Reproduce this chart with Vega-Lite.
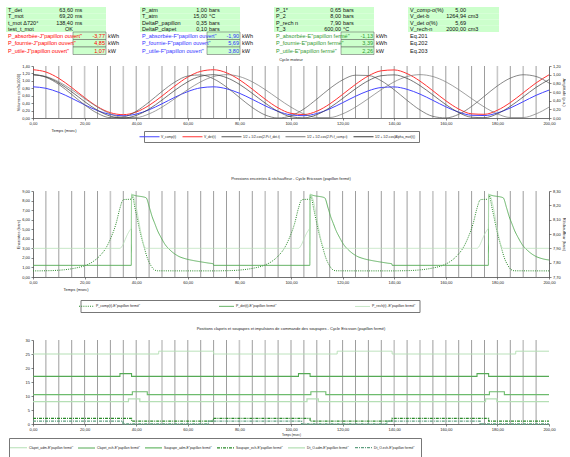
{
"$schema": "https://vega.github.io/schema/vega-lite/v6.json",
"padding": {"left": 5, "top": 7, "right": 0, "bottom": 0},
"background": "white",
"bounds": "flush",
"spacing": 0,
"resolve": {"scale": {"color": "independent", "strokeDash": "independent", "strokeWidth": "independent"}, "legend": {"color": "independent", "strokeDash": "independent", "strokeWidth": "independent"}},
"config": {
 "view": {"stroke": null},
 "font": "Liberation Sans",
 "axis": {"labelFontSize": 4, "titleFontSize": 4, "titleFontWeight": "normal", "labelColor": "#222", "titleColor": "#222", "domainColor": "#333", "tickColor": "#333", "tickSize": 2, "domainWidth": 0.7, "tickWidth": 0.6, "grid": false, "labelPadding": 1.5, "labelFlush": false, "labelOverlap": false, "labelFont": "Liberation Sans", "titleFont": "Liberation Sans"},
 "legend": {"labelFontSize": 3.4, "labelColor": "#222", "strokeColor": "#777", "symbolStrokeWidth": 1, "symbolSize": 16, "labelFont": "Liberation Sans", "orient": "none", "direction": "horizontal"},
 "title": {"fontSize": 4, "fontWeight": "normal", "color": "#222", "font": "Liberation Sans", "anchor": "middle"}
},
"datasets": {
 "hdrTop": [
  {"b":0,"r":0,"l":"T_det","v":"63,60","u":"ms"},
  {"b":0,"r":1,"l":"T_mot","v":"69,20","u":"ms"},
  {"b":0,"r":2,"l":"t_mot Δ720°","v":"138,40","u":"ms"},
  {"b":0,"r":3,"l":"test_t_mot","v":"OK","u":""},
  {"b":1,"r":0,"l":"P_atm","v":"1,00","u":"bars"},
  {"b":1,"r":1,"l":"T_atm","v":"15,00","u":"°C"},
  {"b":1,"r":2,"l":"DeltaP_papillon","v":"0,35","u":"bars"},
  {"b":1,"r":3,"l":"DeltaP_clapet","v":"0,10","u":"bars"},
  {"b":2,"r":0,"l":"P_1*","v":"0,65","u":"bars"},
  {"b":2,"r":1,"l":"P_2","v":"8,00","u":"bars"},
  {"b":2,"r":2,"l":"P_rech n","v":"7,90","u":"bars"},
  {"b":2,"r":3,"l":"T_3","v":"600,00","u":"°C"},
  {"b":3,"r":0,"l":"V_comp-o(%)","v":"5,00","u":""},
  {"b":3,"r":1,"l":"V_det-b","v":"1264,94","u":"cm3"},
  {"b":3,"r":2,"l":"V_det o(%)","v":"5,69","u":""},
  {"b":3,"r":3,"l":"V_rech-n","v":"2000,00","u":"cm3"}
 ],
 "hdrBot": [
  {"b":0,"r":0,"l":"P_absorbée-J\"papillon ouvert\"","v":"-3,77","u":"kWh"},
  {"b":0,"r":1,"l":"P_fournie-J\"papillon ouvert\"","v":"4,85","u":"kWh"},
  {"b":0,"r":2,"l":"P_utile-J\"papillon ouvert\"","v":"1,07","u":"kW"},
  {"b":1,"r":0,"l":"P_absorbée-F\"papillon ouvert\"","v":"-1,90","u":"kWh"},
  {"b":1,"r":1,"l":"P_fournie-F\"papillon ouvert\"","v":"5,69","u":"kWh"},
  {"b":1,"r":2,"l":"P_utile-F\"papillon ouvert\"","v":"3,80","u":"kW"},
  {"b":2,"r":0,"l":"P_absorbée-E\"papillon fermé\"","v":"-1,13","u":"kWh"},
  {"b":2,"r":1,"l":"P_fournie-E\"papillon fermé\"","v":"3,39","u":"kWh"},
  {"b":2,"r":2,"l":"P_utile-E\"papillon fermé\"","v":"2,26","u":"kW"},
  {"b":3,"r":0,"l":"Eq.201","v":"","u":""},
  {"b":3,"r":1,"l":"Eq.202","v":"","u":""},
  {"b":3,"r":2,"l":"Eq.203","v":"","u":""}
 ],
 "vl1d": [{"t":5},{"t":10},{"t":15},{"t":25},{"t":30},{"t":40},{"t":50},{"t":55},{"t":60},{"t":65},{"t":70},{"t":75},{"t":80},{"t":85},{"t":90},{"t":100},{"t":105},{"t":110},{"t":115},{"t":120},{"t":125},{"t":130},{"t":135},{"t":140},{"t":145},{"t":155},{"t":160},{"t":165},{"t":170},{"t":175},{"t":185},{"t":195}],
 "vl1l": [{"t":20},{"t":35},{"t":45},{"t":95},{"t":150},{"t":180},{"t":190}],
 "vl2d": [{"t":5},{"t":10},{"t":15},{"t":20},{"t":25},{"t":35},{"t":45},{"t":50},{"t":55},{"t":60},{"t":65},{"t":70},{"t":75},{"t":80},{"t":85},{"t":95},{"t":100},{"t":105},{"t":115},{"t":120},{"t":125},{"t":130},{"t":135},{"t":140},{"t":145},{"t":150},{"t":165},{"t":170},{"t":175},{"t":180},{"t":185},{"t":190},{"t":195}],
 "vl2l": [{"t":30},{"t":40},{"t":90},{"t":110},{"t":155},{"t":160}],
 "vl3d": [{"t":5},{"t":10},{"t":15},{"t":20},{"t":25},{"t":30},{"t":35},{"t":40},{"t":45},{"t":55},{"t":60},{"t":65},{"t":70},{"t":75},{"t":85},{"t":95},{"t":100},{"t":105},{"t":110},{"t":115},{"t":120},{"t":125},{"t":130},{"t":135},{"t":145},{"t":155},{"t":165},{"t":170},{"t":175},{"t":180},{"t":185},{"t":195}],
 "vl3l": [{"t":50},{"t":80},{"t":90},{"t":140},{"t":150},{"t":160},{"t":190}],
 "c1": [
  {"t":0,"vc":0.840,"vd":1.300,"gd":1.000,"gc":1.000,"gm":1.000},
  {"t":5,"vc":0.800,"vd":1.238,"gd":0.940,"gc":0.957,"gm":0.949},
  {"t":10,"vc":0.690,"vd":1.068,"gd":0.775,"gc":0.835,"gm":0.808},
  {"t":15,"vc":0.531,"vd":0.821,"gd":0.544,"gc":0.655,"gm":0.604},
  {"t":20,"vc":0.356,"vd":0.549,"gd":0.303,"gc":0.448,"gm":0.379},
  {"t":25,"vc":0.199,"vd":0.305,"gd":0.109,"gc":0.250,"gm":0.178},
  {"t":30,"vc":0.094,"vd":0.142,"gd":0.008,"gc":0.095,"gm":0.043},
  {"t":35,"vc":0.060,"vd":0.090,"gd":0.025,"gc":0.011,"gm":0.000},
  {"t":40,"vc":0.106,"vd":0.161,"gd":0.155,"gc":0.011,"gm":0.059},
  {"t":45,"vc":0.221,"vd":0.340,"gd":0.368,"gc":0.095,"gm":0.207},
  {"t":50,"vc":0.383,"vd":0.591,"gd":0.613,"gc":0.250,"gm":0.414},
  {"t":55,"vc":0.558,"vd":0.863,"gd":0.830,"gc":0.448,"gm":0.639},
  {"t":60,"vc":0.712,"vd":1.102,"gd":0.969,"gc":0.655,"gm":0.836},
  {"t":65,"vc":0.812,"vd":1.256,"gd":0.995,"gc":0.835,"gm":0.964},
  {"t":70,"vc":0.839,"vd":1.299,"gd":0.903,"gc":0.957,"gm":0.999},
  {"t":75,"vc":0.787,"vd":1.218,"gd":0.715,"gc":1.000,"gm":0.932},
  {"t":80,"vc":0.667,"vd":1.031,"gd":0.475,"gc":0.957,"gm":0.778},
  {"t":85,"vc":0.503,"vd":0.777,"gd":0.242,"gc":0.835,"gm":0.568},
  {"t":90,"vc":0.328,"vd":0.506,"gd":0.069,"gc":0.655,"gm":0.344},
  {"t":95,"vc":0.178,"vd":0.273,"gd":0.000,"gc":0.448,"gm":0.151},
  {"t":100,"vc":0.083,"vd":0.125,"gd":0.051,"gc":0.250,"gm":0.029},
  {"t":105,"vc":0.062,"vd":0.094,"gd":0.208,"gc":0.095,"gm":0.003},
  {"t":110,"vc":0.120,"vd":0.183,"gd":0.436,"gc":0.011,"gm":0.077},
  {"t":115,"vc":0.245,"vd":0.377,"gd":0.679,"gc":0.011,"gm":0.237},
  {"t":120,"vc":0.411,"vd":0.635,"gd":0.879,"gc":0.095,"gm":0.450},
  {"t":125,"vc":0.585,"vd":0.904,"gd":0.988,"gc":0.250,"gm":0.673},
  {"t":130,"vc":0.732,"vd":1.133,"gd":0.981,"gc":0.448,"gm":0.862},
  {"t":135,"vc":0.821,"vd":1.271,"gd":0.859,"gc":0.655,"gm":0.976},
  {"t":140,"vc":0.836,"vd":1.294,"gd":0.651,"gc":0.835,"gm":0.995},
  {"t":145,"vc":0.772,"vd":1.195,"gd":0.407,"gc":0.957,"gm":0.913},
  {"t":150,"vc":0.643,"vd":0.994,"gd":0.185,"gc":1.000,"gm":0.747},
  {"t":155,"vc":0.475,"vd":0.734,"gd":0.038,"gc":0.957,"gm":0.532},
  {"t":160,"vc":0.302,"vd":0.465,"gd":0.002,"gc":0.835,"gm":0.310},
  {"t":165,"vc":0.158,"vd":0.242,"gd":0.085,"gc":0.655,"gm":0.126},
  {"t":170,"vc":0.074,"vd":0.112,"gd":0.267,"gc":0.448,"gm":0.018},
  {"t":175,"vc":0.066,"vd":0.100,"gd":0.505,"gc":0.250,"gm":0.008},
  {"t":180,"vc":0.136,"vd":0.209,"gd":0.741,"gc":0.095,"gm":0.098},
  {"t":185,"vc":0.270,"vd":0.415,"gd":0.920,"gc":0.011,"gm":0.269},
  {"t":190,"vc":0.439,"vd":0.678,"gd":0.998,"gc":0.011,"gm":0.486},
  {"t":195,"vc":0.611,"vd":0.945,"gd":0.958,"gc":0.095,"gm":0.707},
  {"t":200,"vc":0.751,"vd":1.162,"gd":0.807,"gc":0.250,"gm":0.886}
 ],
 "c2": [
  {"s":"pc","t":0,"p":0.64},{"s":"pc","t":4.2,"p":0.65},{"s":"pc","t":8.2,"p":0.68},{"s":"pc","t":12.2,"p":0.76},{"s":"pc","t":16.2,"p":0.92},{"s":"pc","t":20.2,"p":1.2},{"s":"pc","t":23.2,"p":1.6},{"s":"pc","t":26.2,"p":2.3},{"s":"pc","t":28.2,"p":3.0},{"s":"pc","t":30.2,"p":4.1},{"s":"pc","t":32.2,"p":5.6},{"s":"pc","t":33.7,"p":7.2},{"s":"pc","t":34.7,"p":8.0},{"s":"pc","t":35.2,"p":8.1},{"s":"pc","t":38.2,"p":8.15},{"s":"pc","t":38.4,"p":8.5},{"s":"pc","t":39.7,"p":7.0},{"s":"pc","t":41.7,"p":4.5},{"s":"pc","t":43.2,"p":3.0},{"s":"pc","t":44.3,"p":2.0},{"s":"pc","t":45.7,"p":1.2},{"s":"pc","t":46.8,"p":0.8},{"s":"pc","t":48.2,"p":0.65},{"s":"pc","t":60,"p":0.64},{"s":"pc","t":70,"p":0.64},
  {"s":"pc","t":73.4,"p":0.65},{"s":"pc","t":77.4,"p":0.68},{"s":"pc","t":81.4,"p":0.76},{"s":"pc","t":85.4,"p":0.92},{"s":"pc","t":89.4,"p":1.2},{"s":"pc","t":92.4,"p":1.6},{"s":"pc","t":95.4,"p":2.3},{"s":"pc","t":97.4,"p":3.0},{"s":"pc","t":99.4,"p":4.1},{"s":"pc","t":101.4,"p":5.6},{"s":"pc","t":102.9,"p":7.2},{"s":"pc","t":103.9,"p":8.0},{"s":"pc","t":104.4,"p":8.1},{"s":"pc","t":107.4,"p":8.15},{"s":"pc","t":107.6,"p":8.5},{"s":"pc","t":108.9,"p":7.0},{"s":"pc","t":110.9,"p":4.5},{"s":"pc","t":112.4,"p":3.0},{"s":"pc","t":113.5,"p":2.0},{"s":"pc","t":114.9,"p":1.2},{"s":"pc","t":116.0,"p":0.8},{"s":"pc","t":117.4,"p":0.65},{"s":"pc","t":128,"p":0.64},{"s":"pc","t":139.2,"p":0.64},
  {"s":"pc","t":142.6,"p":0.65},{"s":"pc","t":146.6,"p":0.68},{"s":"pc","t":150.6,"p":0.76},{"s":"pc","t":154.6,"p":0.92},{"s":"pc","t":158.6,"p":1.2},{"s":"pc","t":161.6,"p":1.6},{"s":"pc","t":164.6,"p":2.3},{"s":"pc","t":166.6,"p":3.0},{"s":"pc","t":168.6,"p":4.1},{"s":"pc","t":170.6,"p":5.6},{"s":"pc","t":172.1,"p":7.2},{"s":"pc","t":173.1,"p":8.0},{"s":"pc","t":173.6,"p":8.1},{"s":"pc","t":176.6,"p":8.15},{"s":"pc","t":176.8,"p":8.5},{"s":"pc","t":178.1,"p":7.0},{"s":"pc","t":180.1,"p":4.5},{"s":"pc","t":181.6,"p":3.0},{"s":"pc","t":182.7,"p":2.0},{"s":"pc","t":184.1,"p":1.2},{"s":"pc","t":185.2,"p":0.8},{"s":"pc","t":186.6,"p":0.65},{"s":"pc","t":200,"p":0.64},
  {"s":"pd","t":0,"p":1.22},{"s":"pd","t":38.1,"p":1.22},{"s":"pd","t":38.2,"p":8.6},{"s":"pd","t":40,"p":8.5},{"s":"pd","t":43.8,"p":8.3},{"s":"pd","t":45.2,"p":7.2},{"s":"pd","t":46.2,"p":6.3},{"s":"pd","t":47.2,"p":5.6},{"s":"pd","t":48.2,"p":4.9},{"s":"pd","t":49.7,"p":4.1},{"s":"pd","t":51.2,"p":3.4},{"s":"pd","t":53.2,"p":2.8},{"s":"pd","t":56.2,"p":2.2},{"s":"pd","t":59.2,"p":1.9},{"s":"pd","t":62.2,"p":1.72},{"s":"pd","t":65.2,"p":1.58},{"s":"pd","t":68.2,"p":1.45},{"s":"pd","t":69.9,"p":1.38},{"s":"pd","t":70.0,"p":1.22},
  {"s":"pd","t":107.3,"p":1.22},{"s":"pd","t":107.4,"p":8.6},{"s":"pd","t":109.2,"p":8.5},{"s":"pd","t":113.0,"p":8.3},{"s":"pd","t":114.4,"p":7.2},{"s":"pd","t":115.4,"p":6.3},{"s":"pd","t":116.4,"p":5.6},{"s":"pd","t":117.4,"p":4.9},{"s":"pd","t":118.9,"p":4.1},{"s":"pd","t":120.4,"p":3.4},{"s":"pd","t":122.4,"p":2.8},{"s":"pd","t":125.4,"p":2.2},{"s":"pd","t":128.4,"p":1.9},{"s":"pd","t":131.4,"p":1.72},{"s":"pd","t":134.4,"p":1.58},{"s":"pd","t":137.4,"p":1.45},{"s":"pd","t":139.1,"p":1.38},{"s":"pd","t":139.2,"p":1.22},
  {"s":"pd","t":176.5,"p":1.22},{"s":"pd","t":176.6,"p":8.6},{"s":"pd","t":178.4,"p":8.5},{"s":"pd","t":182.2,"p":8.3},{"s":"pd","t":183.6,"p":7.2},{"s":"pd","t":184.6,"p":6.3},{"s":"pd","t":185.6,"p":5.6},{"s":"pd","t":186.6,"p":4.9},{"s":"pd","t":188.1,"p":4.1},{"s":"pd","t":189.6,"p":3.4},{"s":"pd","t":191.6,"p":2.8},{"s":"pd","t":194.6,"p":2.2},{"s":"pd","t":197.6,"p":1.9},{"s":"pd","t":200,"p":1.78}
 ],
 "c2r": [
  {"s":"pr","t":0,"p":7.90},{"s":"pr","t":33.7,"p":7.90},{"s":"pr","t":34.7,"p":7.92},{"s":"pr","t":35.7,"p":7.96},{"s":"pr","t":36.7,"p":8.00},{"s":"pr","t":37.7,"p":8.03},{"s":"pr","t":38.1,"p":8.04},{"s":"pr","t":38.2,"p":8.28},{"s":"pr","t":43.8,"p":7.90},
  {"s":"pr","t":102.9,"p":7.90},{"s":"pr","t":103.9,"p":7.92},{"s":"pr","t":104.9,"p":7.96},{"s":"pr","t":105.9,"p":8.00},{"s":"pr","t":106.9,"p":8.03},{"s":"pr","t":107.3,"p":8.04},{"s":"pr","t":107.4,"p":8.28},{"s":"pr","t":113.0,"p":7.90},
  {"s":"pr","t":172.1,"p":7.90},{"s":"pr","t":173.1,"p":7.92},{"s":"pr","t":174.1,"p":7.96},{"s":"pr","t":175.1,"p":8.00},{"s":"pr","t":176.1,"p":8.03},{"s":"pr","t":176.5,"p":8.04},{"s":"pr","t":176.6,"p":8.28},{"s":"pr","t":182.2,"p":7.90},{"s":"pr","t":200,"p":7.90}
 ],
 "c3": [
  {"s":"ca","t":0,"v":25},{"s":"ca","t":48.7,"v":26},{"s":"ca","t":70,"v":25},{"s":"ca","t":117.9,"v":26},{"s":"ca","t":139.2,"v":25},{"s":"ca","t":187.1,"v":26},{"s":"ca","t":200,"v":26},
  {"s":"ce","t":0,"v":17},{"s":"ce","t":33.7,"v":18},{"s":"ce","t":38.2,"v":17},{"s":"ce","t":102.9,"v":18},{"s":"ce","t":107.4,"v":17},{"s":"ce","t":172.1,"v":18},{"s":"ce","t":176.6,"v":17},{"s":"ce","t":200,"v":17},
  {"s":"sa","t":0,"v":10.5},{"s":"sa","t":38.5,"v":11.5},{"s":"sa","t":44.3,"v":10.5},{"s":"sa","t":107.7,"v":11.5},{"s":"sa","t":113.5,"v":10.5},{"s":"sa","t":176.9,"v":11.5},{"s":"sa","t":182.7,"v":10.5},{"s":"sa","t":200,"v":10.5},
  {"s":"se","t":0,"v":2},{"s":"se","t":38.2,"v":1},{"s":"se","t":69.9,"v":2},{"s":"se","t":107.4,"v":1},{"s":"se","t":139.1,"v":2},{"s":"se","t":176.6,"v":1},{"s":"se","t":200,"v":1},
  {"s":"da","t":0,"v":8},{"s":"da","t":37,"v":9},{"s":"da","t":41.4,"v":8},{"s":"da","t":106.2,"v":9},{"s":"da","t":110.6,"v":8},{"s":"da","t":175.4,"v":9},{"s":"da","t":179.8,"v":8},{"s":"da","t":200,"v":8},
  {"s":"de","t":0,"v":1},{"s":"de","t":34.9,"v":0},{"s":"de","t":68,"v":1},{"s":"de","t":104.1,"v":0},{"s":"de","t":137.2,"v":1},{"s":"de","t":173.3,"v":0},{"s":"de","t":200,"v":0}
 ]
},
"vconcat": [
 {
  "width": 516, "height": 25,
  "data": {"name": "hdrTop"},
  "encoding": {
   "x": {"field": "b", "type": "quantitative", "scale": {"domain": [0.2015, 4.052], "nice": false, "zero": false}, "axis": null},
   "y": {"field": "r", "type": "ordinal", "scale": {"paddingInner": 0, "paddingOuter": 0}, "axis": null}
  },
  "layer": [
   {"transform": [{"filter": "datum.b < 3"}], "mark": {"type": "rect", "fill": "#ccffcc", "x2Offset": 100}, "encoding": {"x2": {"field": "b"}}},
   {"transform": [{"filter": "datum.b == 3"}], "mark": {"type": "rect", "fill": "#ccffcc", "x2Offset": 91}, "encoding": {"x2": {"field": "b"}}},
   {"mark": {"type": "text", "align": "left", "dx": 2, "fontSize": 5.5, "color": "#111"}, "encoding": {"text": {"field": "l"}}},
   {"transform": [{"filter": "datum.b < 3"}], "mark": {"type": "text", "align": "right", "dx": 67, "fontSize": 5.5, "color": "#111"}, "encoding": {"text": {"field": "v"}}},
   {"transform": [{"filter": "datum.b == 3"}], "mark": {"type": "text", "align": "right", "dx": 58, "fontSize": 5.5, "color": "#111"}, "encoding": {"text": {"field": "v"}}},
   {"transform": [{"filter": "datum.b < 3"}], "mark": {"type": "text", "align": "left", "dx": 69, "fontSize": 5.5, "color": "#111"}, "encoding": {"text": {"field": "u"}}},
   {"transform": [{"filter": "datum.b == 3"}], "mark": {"type": "text", "align": "left", "dx": 60, "fontSize": 5.5, "color": "#111"}, "encoding": {"text": {"field": "u"}}}
  ]
 },
 {
  "width": 516, "height": 22.5,
  "data": {"name": "hdrBot"},
  "encoding": {
   "x": {"field": "b", "type": "quantitative", "scale": {"domain": [0.2015, 4.052], "nice": false, "zero": false}, "axis": null},
   "y": {"field": "r", "type": "ordinal", "scale": {"paddingInner": 0, "paddingOuter": 0}, "axis": null}
  },
  "layer": [
   {"transform": [{"filter": "datum.b < 3"}], "mark": {"type": "rect", "fill": "#ccffcc", "stroke": "#555", "strokeWidth": 0.5, "xOffset": 67, "x2Offset": 100}, "encoding": {"x2": {"field": "b"}}},
   {"mark": {"type": "text", "align": "left", "dx": 2, "fontSize": 5.5}, "encoding": {"text": {"field": "l"}, "color": {"field": "b", "type": "ordinal", "scale": {"domain": [0,1,2,3], "range": ["#ff0000", "#3333ff", "#339933", "#111111"]}, "legend": null}}},
   {"transform": [{"filter": "datum.b < 3"}], "mark": {"type": "text", "align": "right", "dx": 99, "fontSize": 5.5}, "encoding": {"text": {"field": "v"}, "color": {"field": "b", "type": "ordinal", "legend": null}}},
   {"transform": [{"filter": "datum.b < 3"}], "mark": {"type": "text", "align": "left", "dx": 102, "fontSize": 5.5, "color": "#111"}, "encoding": {"text": {"field": "u"}}}
  ]
 },
 {"width": 516, "height": 10.5, "data": {"values": []}, "mark": "point"},
 {
  "width": 516, "height": 52,
  "title": {"text": "Cycle moteur", "offset": 2},
  "layer": [
   {"data": {"name": "vl1d"}, "mark": {"type": "rule", "stroke": "#5a5a5a", "strokeWidth": 0.6},
    "encoding": {"x": {"field": "t", "type": "quantitative", "scale": {"domain": [0, 200], "nice": false},
     "axis": {"values": [0,10,20,30,40,50,60,70,80,90,100,110,120,130,140,150,160,170,180,190,200], "labelExpr": "replace(format(datum.value,'.2f'),'.',',')", "title": "Temps (msec)", "titleX": 18, "titleY": 10, "titleAlign": "left", "titleBaseline": "top"}}}},
   {"data": {"name": "vl1l"}, "mark": {"type": "rule", "stroke": "#c8c8c8", "strokeWidth": 1.6}, "encoding": {"x": {"field": "t", "type": "quantitative"}}},
   {"data": {"name": "c1"}, "transform": [{"fold": ["vc", "vd"], "as": ["s", "v"]}],
    "mark": {"type": "line", "interpolate": "monotone", "strokeWidth": 1},
    "encoding": {
     "x": {"field": "t", "type": "quantitative"},
     "y": {"field": "v", "type": "quantitative", "scale": {"domain": [0, 1.4], "nice": false}, "axis": {"values": [0,0.2,0.4,0.6,0.8,1,1.2,1.4], "labelExpr": "replace(format(datum.value,'.2f'),'.',',')", "title": "Volumes (cm3x1000)", "titlePadding": 1}},
     "color": {"field": "s", "type": "nominal", "scale": {"domain": ["vc","vd","gd","gc","gm"], "range": ["#4444ff","#ff3333","#555555","#777777","#3a3a3a"]},
      "legend": {"title": null, "legendX": 111, "legendY": 65, "columns": 5, "padding": 3, "symbolType": "M-5,0H5", "labelOffset": 9, "columnPadding": 3, "labelFontSize": 3.3,
       "labelExpr": "datum.label == 'vc' ? 'V_comp(t)' : datum.label == 'vd' ? 'V_det(t)' : datum.label == 'gd' ? '1/2 + 1/2.cos(2.Pi.f_det.t)' : datum.label == 'gc' ? '1/2 + 1/2.cos(2.Pi.f_comp.t)' : '1/2 + 1/2.cos(Alpha_mot(t))'"}}
    }},
   {"data": {"name": "c1"}, "transform": [{"fold": ["gd", "gc", "gm"], "as": ["s", "v"]}],
    "mark": {"type": "line", "interpolate": "monotone", "strokeWidth": 0.7},
    "encoding": {
     "x": {"field": "t", "type": "quantitative"},
     "y": {"field": "v", "type": "quantitative", "scale": {"domain": [0, 1.2], "nice": false}, "axis": {"orient": "right", "values": [0,0.2,0.4,0.6,0.8,1,1.2], "labelExpr": "replace(format(datum.value,'.2f'),'.',',')", "title": "Amplitude (p.u.)", "titlePadding": 1}},
     "color": {"field": "s", "type": "nominal"}
    }}
  ],
  "resolve": {"scale": {"y": "independent"}}
 },
 {"width": 516, "height": 73, "data": {"values": []}, "mark": "point"},
 {
  "width": 516, "height": 86,
  "title": {"text": "Pressions enceintes & réchauffeur - Cycle Ericsson (papillon fermé)", "offset": 8},
  "layer": [
   {"data": {"name": "vl2d"}, "mark": {"type": "rule", "stroke": "#5a5a5a", "strokeWidth": 0.6},
    "encoding": {"x": {"field": "t", "type": "quantitative", "scale": {"domain": [0, 200], "nice": false},
     "axis": {"values": [0,10,20,30,40,50,60,70,80,90,100,110,120,130,140,150,160,170,180,190,200], "labelExpr": "replace(format(datum.value,'.2f'),'.',',')", "title": "Temps (msec)", "titleX": 30, "titleY": 10, "titleAlign": "left", "titleBaseline": "top"}}}},
   {"data": {"name": "vl2l"}, "mark": {"type": "rule", "stroke": "#c8c8c8", "strokeWidth": 1.6}, "encoding": {"x": {"field": "t", "type": "quantitative"}}},
   {"data": {"name": "c2"},
    "mark": {"type": "line", "interpolate": "monotone"},
    "encoding": {
     "x": {"field": "t", "type": "quantitative"},
     "y": {"field": "p", "type": "quantitative", "scale": {"domain": [0, 9], "nice": false}, "axis": {"values": [0,1,2,3,4,5,6,7,8,9], "labelExpr": "replace(format(datum.value,'.2f'),'.',',')", "title": "Enceintes (bars)", "titlePadding": 1}},
     "color": {"field": "s", "type": "nominal", "scale": {"domain": ["pc","pd","pr"], "range": ["#2a8a2a","#55aa55","#b8e0b8"]},
      "legend": {"title": null, "legendX": 47.5, "legendY": 109, "columns": 3, "padding": 3.5, "symbolType": "M-3.75,0H3.75", "labelOffset": 7, "columnPadding": 76, "labelFontSize": 3.5,
       "labelExpr": "datum.label == 'pc' ? 'P_comp(t)-E\"papillon fermé\"' : datum.label == 'pd' ? 'P_det(t)-E\"papillon fermé\"' : 'P_rech(t) -E\"papillon fermé\"'"}},
     "strokeDash": {"field": "s", "type": "nominal", "scale": {"domain": ["pc","pd","pr"], "range": [[1,1.2],[1,0],[1,0]]}},
     "strokeWidth": {"field": "s", "type": "nominal", "scale": {"domain": ["pc","pd","pr"], "range": [1,0.8,2]}, "legend": null}
    }},
   {"data": {"name": "c2r"},
    "mark": {"type": "line", "interpolate": "monotone"},
    "encoding": {
     "x": {"field": "t", "type": "quantitative"},
     "y": {"field": "p", "type": "quantitative", "scale": {"domain": [7.7, 8.3], "nice": false, "zero": false}, "axis": {"orient": "right", "values": [7.7,7.8,7.9,8,8.1,8.2,8.3], "labelExpr": "replace(format(datum.value,'.2f'),'.',',')", "title": "Réchauffeur (bars)", "titlePadding": 1}},
     "color": {"field": "s", "type": "nominal"},
     "strokeDash": {"field": "s", "type": "nominal"},
     "strokeWidth": {"field": "s", "type": "nominal", "legend": null}
    }}
  ],
  "resolve": {"scale": {"y": "independent"}}
 },
 {"width": 516, "height": 63, "data": {"values": []}, "mark": "point"},
 {
  "width": 516, "height": 84,
  "title": {"text": "Positions clapets et soupapes et impulsions de commande des soupapes - Cycle Ericsson (papillon fermé)", "offset": 7},
  "layer": [
   {"data": {"name": "vl3d"}, "mark": {"type": "rule", "stroke": "#5a5a5a", "strokeWidth": 0.6},
    "encoding": {"x": {"field": "t", "type": "quantitative", "scale": {"domain": [0, 200], "nice": false},
     "axis": {"values": [0,10,20,30,40,50,60,70,80,90,100,110,120,130,140,150,160,170,180,190,200], "labelExpr": "replace(format(datum.value,'.2f'),'.',',')", "title": "Temps (msec)", "titleFontSize": 3, "titleX": 258, "titleY": 9, "titleAlign": "center", "titleBaseline": "top"}}}},
   {"data": {"name": "vl3l"}, "mark": {"type": "rule", "stroke": "#c8c8c8", "strokeWidth": 1.6}, "encoding": {"x": {"field": "t", "type": "quantitative"}}},
   {"data": {"name": "c3"},
    "mark": {"type": "line", "interpolate": "step-after"},
    "encoding": {
     "x": {"field": "t", "type": "quantitative"},
     "y": {"field": "v", "type": "quantitative", "scale": {"domain": [0, 30], "nice": false}, "axis": {"values": [0,5,10,15,20,25,30], "format": "d", "title": null}},
     "color": {"field": "s", "type": "nominal", "scale": {"domain": ["ca","ce","sa","se","da","de"], "range": ["#b5dfb5","#55aa55","#6dbb6d","#2a8a2a","#b5dfb5","#5f9f80"]},
      "legend": {"title": null, "legendX": -24, "legendY": 98, "columns": 6, "padding": 6.5, "symbolType": "M-4.25,0H4.25", "labelOffset": 7.5, "columnPadding": 2, "labelFontSize": 3.3,
       "labelExpr": "datum.label == 'ca' ? 'Clapet_adm-E\"papillon fermé\"' : datum.label == 'ce' ? 'Clapet_ech-E\"papillon fermé\"' : datum.label == 'sa' ? 'Soupape_adm-E\"papillon fermé\"' : datum.label == 'se' ? 'Soupape_ech-E\"papillon fermé\"' : datum.label == 'da' ? 'Dt_O-adm-E\"papillon fermé\"' : 'Dt_O-ech-E\"papillon fermé\"'"}},
     "strokeDash": {"field": "s", "type": "nominal", "scale": {"domain": ["ca","ce","sa","se","da","de"], "range": [[1,0],[1,0],[1,0],[3,1,1,1],[1,0],[3,1,1,1]]}},
     "strokeWidth": {"field": "s", "type": "nominal", "scale": {"domain": ["ca","ce","sa","se","da","de"], "range": [1,1.3,1,1,1,1]}, "legend": null}
    }}
  ]
 }
]
}
